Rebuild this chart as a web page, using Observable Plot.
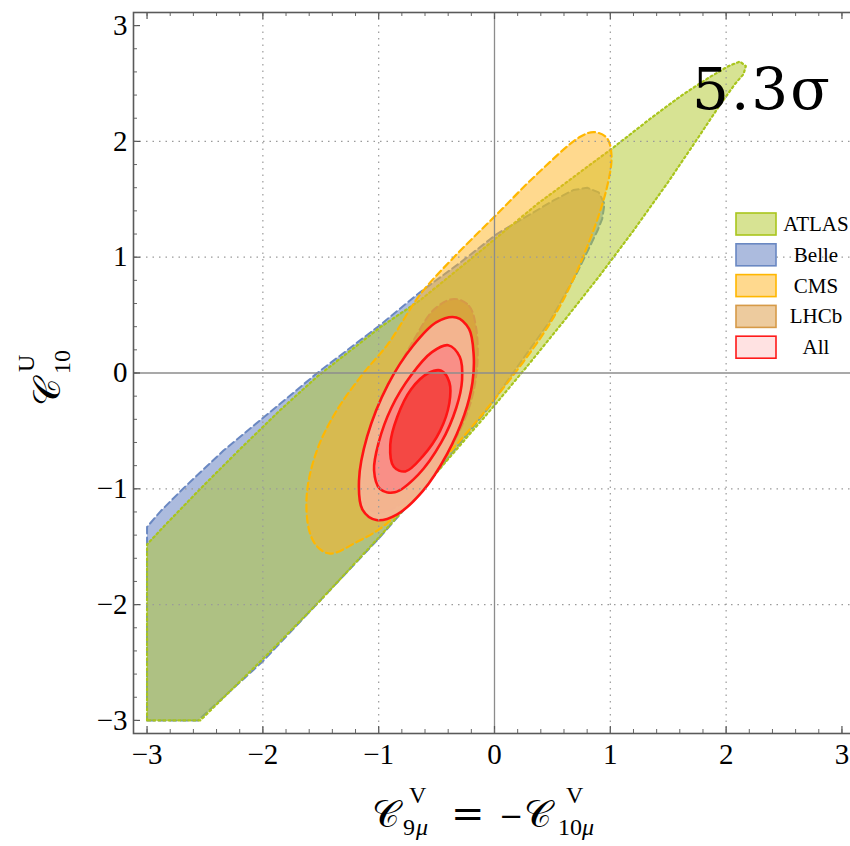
<!DOCTYPE html>
<html>
<head>
<meta charset="utf-8">
<script src="https://cdn.jsdelivr.net/npm/d3@7"></script>
<script src="https://cdn.jsdelivr.net/npm/@observablehq/plot@0.6"></script>
<style>
  html, body { margin: 0; padding: 0; background: #fff; overflow: hidden; }
  #chart { width: 850px; height: 846px; }
</style>
</head>
<body>
<div id="chart"></div>
<script>
// ---- tick values ----
const majorTicks = [-3, -2, -1, 0, 1, 2, 3];
const minorTicks = [-3, -2.8, -2.6, -2.4, -2.2, -2, -1.8, -1.6, -1.4, -1.2, -1, -0.8, -0.6, -0.4, -0.2, 0,
  0.2, 0.4, 0.6, 0.8, 1, 1.2, 1.4, 1.6, 1.8, 2, 2.2, 2.4, 2.6, 2.8, 3];
const gridTicks = [-2, -1, 1, 2];
const zeroLine = [0];

// ---- legend entries ----
const seriesNames = ["ATLAS", "Belle", "CMS", "LHCb", "All"];

// ---- region boundaries: [C9 = -C10, C10^U] ----
const belleRegion = [[-3,-3],[-3,-1.33],[-2.88,-1.19],[-2.68,-0.99],[-2.34,-0.67],[-1.99,-0.38],[-1.53,0.0],
  [-0.98,0.42],[-0.64,0.70],[-0.3,0.95],[0.02,1.20],[0.51,1.49],[0.68,1.58],[0.80,1.60],[0.90,1.56],
  [0.95,1.46],[0.93,1.33],[0.89,1.23],[0.71,0.86],[0.48,0.45],[0.16,0.0],[-0.05,-0.3],[-0.55,-0.92],
  [-1.0,-1.43],[-1.52,-1.98],[-2.0,-2.49],[-2.56,-3]];
const atlasRegion = [[-3,-3],[-3,-1.48],[-2.85,-1.32],[-2.54,-1.0],[-2.2,-0.66],[-1.85,-0.32],[-1.53,-0.03],
  [-0.98,0.40],[-0.64,0.63],[-0.21,0.98],[0.37,1.46],[1.03,1.95],[1.35,2.2],[1.62,2.4],[1.85,2.55],[2.02,2.65],
  [2.12,2.69],[2.17,2.65],[2.15,2.58],[2.08,2.50],[1.95,2.32],[1.75,2.02],[1.5,1.65],[1.2,1.23],
  [0.9,0.83],[0.6,0.45],[0.3,0.08],[0.0,-0.28],[-0.5,-0.86],[-0.98,-1.40],[-1.5,-1.96],[-2.0,-2.47],[-2.54,-3]];
const cmsRegion = [[-1.42,-1.56],[-1.19,-1.46],[-0.93,-1.30],[-0.47,-0.78],[-0.01,-0.24],[0.51,0.48],
  [0.80,1.09],[0.97,1.60],[1.01,1.88],[0.97,2.03],[0.86,2.08],[0.74,2.04],[0.37,1.72],[0.02,1.37],
  [-0.35,1.0],[-0.64,0.68],[-0.92,0.25],[-1.13,0.0],[-1.36,-0.32],[-1.53,-0.66],[-1.62,-1.04],
  [-1.60,-1.36],[-1.53,-1.5]];
const lhcbRegion = [[-0.35,0.64],[-0.22,0.58],[-0.16,0.40],[-0.15,0.05],[-0.22,-0.30],[-0.40,-0.68],
  [-0.64,-1.0],[-0.96,-1.20],[-1.10,-1.16],[-1.13,-0.90],[-1.06,-0.52],[-0.88,-0.06],[-0.70,0.28],[-0.52,0.55]];
const allOuter = [[-0.33,0.48],[-0.22,0.38],[-0.18,0.16],[-0.19,-0.08],[-0.26,-0.36],[-0.41,-0.70],[-0.62,-1.02],
  [-0.84,-1.22],[-1.02,-1.27],[-1.14,-1.18],[-1.17,-0.93],[-1.10,-0.55],[-0.92,-0.10],[-0.70,0.24],[-0.50,0.44]];
const allMiddle = [[-0.40,0.24],[-0.30,0.14],[-0.28,-0.06],[-0.33,-0.30],[-0.46,-0.60],[-0.66,-0.88],[-0.86,-1.03],
  [-0.99,-1.0],[-1.04,-0.84],[-1.00,-0.60],[-0.89,-0.30],[-0.72,-0.02],[-0.54,0.18]];
const allInner = [[-0.46,0.02],[-0.39,-0.08],[-0.39,-0.26],[-0.47,-0.50],[-0.62,-0.72],[-0.77,-0.85],
  [-0.87,-0.81],[-0.90,-0.62],[-0.84,-0.38],[-0.72,-0.14],[-0.57,0.0]];

// ---- styles ----
const styles = {
  ATLAS: {fill: "rgb(175,200,40)", fillOpacity: 0.5, stroke: "#a9c51c", strokeWidth: 2.2, strokeDasharray: "2,3"},
  Belle: {fill: "rgb(90,120,190)", fillOpacity: 0.5, stroke: "#6a88c2", strokeWidth: 2, strokeDasharray: "7,4"},
  CMS:   {fill: "rgb(255,180,30)", fillOpacity: 0.5, stroke: "#ffb700", strokeWidth: 2.2, strokeDasharray: "7,4"},
  LHCb:  {fill: "rgb(215,140,40)", fillOpacity: 0.45, stroke: "#d69a48", strokeWidth: 2, strokeDasharray: "7,4"},
  All:   {fill: "rgb(255,60,60)", fillOpacity: 0.15, stroke: "#ff1a1a", strokeWidth: 2.5, strokeDasharray: null}
};

const serif = "'Liberation Serif', 'Times New Roman', 'DejaVu Serif', serif";
const W = 850, H = 846, mL = 133, mR = -5, mT = 12, mB = 113;
const plotW = W - mL - mR, plotH = H - mT - mB;
const xy = {x: d => d[0], y: d => d[1]};
const fmt = d => (d < 0 ? "\u2212" + Math.abs(d) : String(d));

const chart = Plot.plot({
  width: W, height: H,
  marginLeft: mL, marginRight: mR, marginTop: mT, marginBottom: mB,
  x: {domain: [-3.117, 3.117]},
  y: {domain: [-3.113, 3.113]},
  style: {fontFamily: serif, color: "black", background: "white"},
  marks: [
    Plot.line(belleRegion, {...xy, curve: "linear-closed", ...styles.Belle}),
    Plot.line(atlasRegion, {...xy, curve: "linear-closed", ...styles.ATLAS}),
    Plot.line(cmsRegion, {...xy, curve: "catmull-rom-closed", ...styles.CMS}),
    Plot.line(lhcbRegion, {...xy, curve: "catmull-rom-closed", ...styles.LHCb}),
    Plot.line(allOuter, {...xy, curve: "catmull-rom-closed", fill: "rgb(246,182,152)", fillOpacity: 0.9, stroke: "#ff1414", strokeWidth: 2.6}),
    Plot.line(allMiddle, {...xy, curve: "catmull-rom-closed", fill: "rgb(250,140,135)", fillOpacity: 0.92, stroke: "#ff1414", strokeWidth: 2.6}),
    Plot.line(allInner, {...xy, curve: "catmull-rom-closed", fill: "rgb(243,68,64)", fillOpacity: 0.95, stroke: "#ff1414", strokeWidth: 2.6}),
    Plot.ruleX(gridTicks, {x: d => d, stroke: "#9a9a9a", strokeWidth: 1.2, strokeDasharray: "1.5,5"}),
    Plot.ruleY(gridTicks, {y: d => d, stroke: "#9a9a9a", strokeWidth: 1.2, strokeDasharray: "1.5,5"}),
    Plot.ruleX(zeroLine, {x: d => d, stroke: "#8c8c8c", strokeWidth: 1.3}),
    Plot.ruleY(zeroLine, {y: d => d, stroke: "#8c8c8c", strokeWidth: 1.3}),
    // inward ticks: bottom, top, left
    Plot.tickX(majorTicks, {x: d => d, insetTop: plotH - 7, stroke: "#555", strokeWidth: 1.2}),
    Plot.tickX(minorTicks, {x: d => d, insetTop: plotH - 4, stroke: "#666", strokeWidth: 1}),
    Plot.tickX(majorTicks, {x: d => d, insetBottom: plotH - 7, stroke: "#555", strokeWidth: 1.2}),
    Plot.tickX(minorTicks, {x: d => d, insetBottom: plotH - 4, stroke: "#666", strokeWidth: 1}),
    Plot.tickY(majorTicks, {y: d => d, insetRight: plotW - 7, stroke: "#555", strokeWidth: 1.2}),
    Plot.tickY(minorTicks, {y: d => d, insetRight: plotW - 4, stroke: "#666", strokeWidth: 1}),
    Plot.frame({stroke: "#5a5a5a", strokeWidth: 1.6}),
    Plot.axisX(majorTicks, {tickSize: 0, tickPadding: 10, fontSize: 29, label: null, fill: "black", tickFormat: fmt}),
    Plot.axisY(majorTicks, {tickSize: 0, tickPadding: 6, fontSize: 29, label: null, fill: "black", tickFormat: fmt})
  ]
});
document.getElementById("chart").appendChild(chart);

// ---- annotations, legend and axis titles ----
const svg = d3.select(chart);

// legend
const leg = svg.append("g");
seriesNames.forEach((name, i) => {
  const s = styles[name];
  const y0 = 213 + i * 30.8;
  leg.append("rect").attr("x", 736).attr("y", y0).attr("width", 40).attr("height", 22)
    .attr("fill", "white");
  leg.append("rect").attr("x", 736).attr("y", y0).attr("width", 40).attr("height", 22)
    .attr("fill", s.fill).attr("fill-opacity", s.fillOpacity)
    .attr("stroke", s.stroke).attr("stroke-width", 1.6);
  leg.append("text").attr("x", 816).attr("y", y0 + 18).attr("text-anchor", "middle")
    .attr("font-family", serif).attr("font-size", 21).attr("fill", "black").text(name);
});

// 5.3σ annotation
svg.append("text").attr("x", 692).attr("y", 109).attr("text-anchor", "start")
  .attr("font-family", "'DejaVu Serif', serif").attr("font-size", 58).attr("letter-spacing", 2)
  .attr("fill", "black").text("5.3σ");

// x axis title: C_{9μ}^V = −C_{10μ}^V
const script = "'DejaVu Serif', 'DejaVu Sans', serif";
const xt = svg.append("g").attr("font-family", serif).attr("fill", "black").attr("text-anchor", "start");
xt.append("text").attr("x", 372).attr("y", 827).attr("font-family", script).attr("font-size", 38).text("𝒞");
xt.append("text").attr("x", 409).attr("y", 803).attr("font-size", 24).text("V");
xt.append("text").attr("x", 403).attr("y", 835).attr("font-size", 24).text("9");
xt.append("text").attr("x", 416).attr("y", 835).attr("font-size", 24).attr("font-style", "italic").text("μ");
xt.append("text").attr("x", 451).attr("y", 827).attr("font-family", "'DejaVu Serif', serif").attr("font-size", 40).text("=");
xt.append("text").attr("x", 499).attr("y", 826).attr("font-family", "'DejaVu Serif', serif").attr("font-size", 29).text("−");
xt.append("text").attr("x", 524).attr("y", 827).attr("font-family", script).attr("font-size", 38).text("𝒞");
xt.append("text").attr("x", 566).attr("y", 803).attr("font-size", 24).text("V");
xt.append("text").attr("x", 558).attr("y", 835).attr("font-size", 24).text("10");
xt.append("text").attr("x", 582).attr("y", 835).attr("font-size", 24).attr("font-style", "italic").text("μ");

// y axis title: C_{10}^U (rotated)
const yt = svg.append("g").attr("transform", "translate(60,375) rotate(-90)")
  .attr("font-family", serif).attr("fill", "black").attr("text-anchor", "start");
yt.append("text").attr("x", -31).attr("y", 0).attr("font-family", script).attr("font-size", 38).text("𝒞");
yt.append("text").attr("x", 3).attr("y", -26).attr("font-size", 24).text("U");
yt.append("text").attr("x", 1).attr("y", 10).attr("font-size", 24).text("10");
</script>
</body>
</html>
